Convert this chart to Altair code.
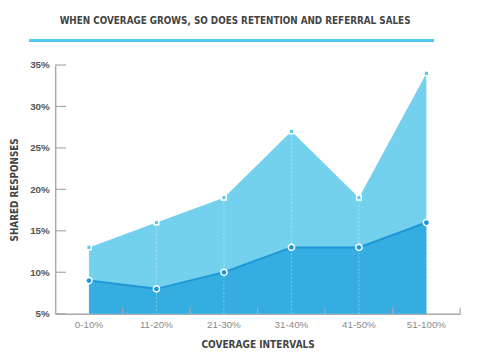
import altair as alt
import pandas as pd

categories = ["0-10%", "11-20%", "21-30%", "31-40%", "41-50%", "51-100%"]
retention = [9, 8, 10, 13, 13, 16]
referral = [13, 16, 19, 27, 19, 34]
y_ticks = [5, 10, 15, 20, 25, 30, 35]
series_names = ["Retention Sales", "Referral Sales"]

W, H = 412, 253
FONT = "'DejaVu Sans Condensed', 'Liberation Sans Narrow', 'Liberation Sans', sans-serif"

wide = pd.DataFrame({"cat": categories, "retention": retention, "referral": referral})
long = pd.concat([
    pd.DataFrame({"cat": categories, "series": series_names[0], "value": retention}),
    pd.DataFrame({"cat": categories, "series": series_names[1], "value": referral}),
])
ticks_df = pd.DataFrame({"t": y_ticks})

x_scale = alt.Scale(domain=categories, paddingInner=0, paddingOuter=0)
y_scale = alt.Scale(domain=[5, 35], zero=False, nice=False)

X = alt.X("cat:N", scale=x_scale, sort=categories,
          axis=alt.Axis(title="COVERAGE INTERVALS", labelAngle=0, tickSize=0,
                        domainColor="#aaaaaa", domainWidth=1.5,
                        labelColor="#8a8a8a", labelFontSize=10, labelFont="Liberation Sans",
                        labelPadding=6, titlePadding=10, titleFont=FONT,
                        titleFontSize=10.2, titleColor="#444444", titleFontWeight="bold"))
Y = alt.Y("referral:Q", scale=y_scale,
          axis=alt.Axis(title="SHARED RESPONSES", values=y_ticks, labelExpr="datum.value + '%'",
                        tickSize=0, grid=False, domainColor="#aaaaaa", domainWidth=1.5,
                        labelColor="#555555", labelFontSize=10, labelFont="Liberation Sans",
                        labelFontWeight="bold", labelPadding=6, titlePadding=10,
                        titleFont=FONT, titleFontSize=10, titleColor="#444444",
                        titleFontWeight="bold"))

base = alt.Chart(wide)

ref_area = base.mark_area(color="#74D1EE", opacity=1).encode(x=X, y=Y, y2=alt.datum(5))
ret_area = base.mark_area(color="#35ADE0", opacity=1).encode(
    x=alt.X("cat:N", scale=x_scale, sort=categories),
    y=alt.Y("retention:Q", scale=y_scale), y2=alt.datum(5))
ret_line = base.mark_line(color="#1E98D6", strokeWidth=2).encode(
    x=alt.X("cat:N", scale=x_scale, sort=categories),
    y=alt.Y("retention:Q", scale=y_scale))
vrules = base.mark_rule(color="white", opacity=0.35, strokeDash=[2, 2], strokeWidth=1).encode(
    x=alt.X("cat:N", scale=x_scale, sort=categories),
    y=alt.Y("referral:Q", scale=y_scale), y2=alt.datum(5))

points = alt.Chart(long).mark_point(filled=True, opacity=1, stroke="white", strokeWidth=1.5).encode(
    x=alt.X("cat:N", scale=x_scale, sort=categories),
    y=alt.Y("value:Q", scale=y_scale),
    size=alt.Size("series:N", scale=alt.Scale(domain=series_names, range=[40, 22]), legend=None),
    fill=alt.Fill("series:N", scale=alt.Scale(domain=series_names, range=["#1E95D8", "#5CCAF0"]),
                  legend=alt.Legend(title=None, orient="none", legendX=26, legendY=4,
                                    symbolSize=90, symbolStrokeWidth=0, labelColor="#5CC7EE",
                                    labelFont="Liberation Sans", labelFontSize=10.5,
                                    labelFontWeight="bold", rowPadding=8, labelOffset=6, padding=0)),
    shape=alt.Shape("series:N", scale=alt.Scale(domain=series_names, range=["circle", "square"]),
                    legend=alt.Legend(title=None, orient="none", legendX=26, legendY=4)),
)

yticks = alt.Chart(ticks_df).mark_rule(color="#aaaaaa", strokeWidth=1.2).encode(
    x=alt.value(0), x2=alt.value(11), y=alt.Y("t:Q", scale=y_scale))
xticks = base.mark_rule(color="#aaaaaa", strokeWidth=1.2).encode(
    x=alt.X("cat:N", scale=x_scale, sort=categories, bandPosition=1),
    y=alt.value(H), y2=alt.value(H - 6))
underline = base.mark_rule(color="#4FC8EE", strokeWidth=2.5).encode(
    x=alt.value(-26), x2=alt.value(385), y=alt.value(-25))

chart = alt.layer(ref_area, ret_area, ret_line, vrules, points, yticks, xticks, underline).properties(
    width=W, height=H,
    title=alt.TitleParams("WHEN COVERAGE GROWS, SO DOES RETENTION AND REFERRAL SALES",
                          font=FONT, fontSize=10, fontWeight="bold", color="#444444",
                          anchor="middle", dx=-23, offset=13),
    autosize=alt.AutoSizeParams(type="none"),
    padding={"left": 48, "top": 55, "right": 10, "bottom": 40},
).configure_view(stroke=None).resolve_scale(fill="shared", shape="shared")

chart.save("out.html", embed_options={"renderer": "svg", "actions": False})
